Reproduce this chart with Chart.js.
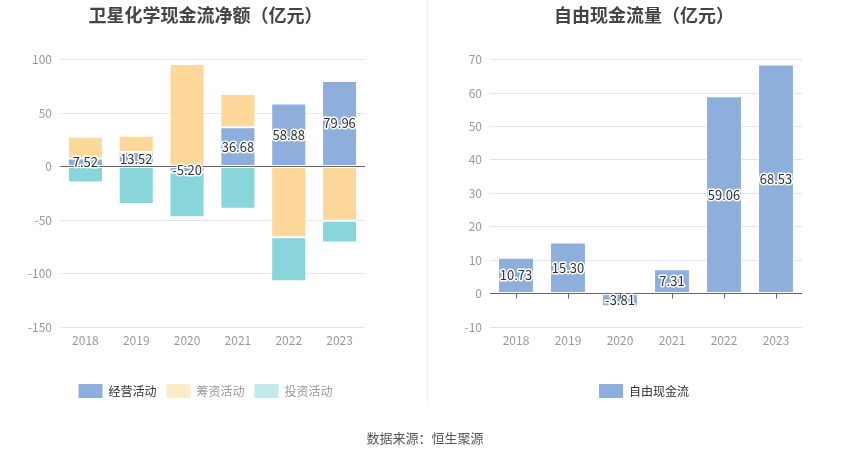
<!DOCTYPE html>
<html>
<head>
<meta charset="utf-8">
<script src="https://cdn.jsdelivr.net/npm/chart.js@4.4.1/dist/chart.umd.min.js"></script>
<style>
  body{margin:0;background:#fff;font-family:"Noto Sans CJK SC",sans-serif;}
  #wrap{position:relative;width:850px;height:459px;}
  #left{position:absolute;left:0;top:0;}
  #right{position:absolute;left:425px;top:0;}
  #divider{position:absolute;left:427px;top:0;width:1px;height:405px;background:#eeeeee;}
  #source{position:absolute;left:0;width:850px;top:428px;text-align:center;font-size:13px;color:#555;}
</style>
</head>
<body>
<div id="wrap">
  <canvas id="left" width="425" height="459"></canvas>
  <div id="divider"></div>
  <canvas id="right" width="425" height="459"></canvas>
  <div id="source">数据来源：恒生聚源</div>
</div>
<script>
const years = ["2018", "2019", "2020", "2021", "2022", "2023"];
const operating = [7.52, 13.52, -5.20, 36.68, 58.88, 79.96];
const financing = [20.4, 15.3, 96.0, 31.2, -66.0, -50.7];
const investing = [-14.8, -35.1, -42.1, -39.5, -41.2, -20.3];
const freeCash = [10.73, 15.30, -3.81, 7.31, 59.06, 68.53];
const leftTicks = [100, 50, 0, -50, -100, -150];
const rightTicks = [70, 60, 50, 40, 30, 20, 10, 0, -10];

const FONT = '"Noto Sans CJK SC", sans-serif';
const BLUE = "#8eaedb";
const PEACH = "#fed89a";
const TEAL = "#88d6da";

// value labels centred in the bars, white halo
const barLabels = {
  id: "barLabels",
  afterDatasetsDraw(chart, args, opts){
    const ctx = chart.ctx;
    const meta = chart.getDatasetMeta(0);
    const data = chart.data.datasets[0].data;
    ctx.save();
    ctx.font = "13px " + FONT;
    ctx.textAlign = "center";
    ctx.textBaseline = "middle";
    ctx.lineJoin = "round";
    meta.data.forEach((bar, i) => {
      const p = bar.getProps(["x", "y", "base"], true);
      const y = (p.y + p.base) / 2;
      const t = data[i].toFixed(2);
      ctx.strokeStyle = "#fff";
      ctx.lineWidth = 3;
      ctx.strokeText(t, p.x, y);
      ctx.fillStyle = "#333";
      ctx.fillText(t, p.x, y);
    });
    if(opts.zeroTicks){
      const x = chart.scales.x, y0 = chart.scales.y.getPixelForValue(0);
      ctx.strokeStyle = "#666";
      ctx.lineWidth = 1;
      years.forEach((_, i) => {
        const px = Math.round(x.getPixelForValue(i)) + 0.5;
        ctx.beginPath();
        ctx.moveTo(px, y0);
        ctx.lineTo(px, y0 + 5);
        ctx.stroke();
      });
    }
    ctx.restore();
  }
};

// nudge title and legend sideways so they centre like the original
const shiftBoxes = {
  id: "shiftBoxes",
  afterLayout(chart, args, opts){
    [chart.titleBlock, chart.legend].forEach(b => {
      if(!b) return;
      b.left += opts.dx;
      b.right += opts.dx;
      if(b.legendHitBoxes) b.legendHitBoxes.forEach(h => { h.left += opts.dx; });
    });
  }
};

function legendOpts(swatches, textColors){
  return {
    position: "bottom",
    labels: {
      boxWidth: 24,
      boxHeight: 14,
      useBorderRadius: true,
      borderRadius: 3,
      padding: 10,
      font: { size: 12, family: FONT },
      generateLabels(chart){
        return chart.data.datasets.map((ds, i) => ({
          text: ds.label,
          fillStyle: swatches[i],
          strokeStyle: swatches[i],
          lineWidth: 0,
          fontColor: textColors[i],
          datasetIndex: i,
          hidden: false
        }));
      }
    }
  };
}

function scalesOpts(min, max, tickList){
  return {
    x: {
      stacked: true,
      grid: { display: false, drawTicks: false },
      border: { display: false },
      ticks: { color: "#999", font: { size: 12, family: FONT }, padding: 6 },
      afterFit(s){ s.height = 47; }
    },
    y: {
      stacked: true,
      min, max,
      afterBuildTicks(s){ s.ticks = tickList.map(v => ({ value: v })); },
      grid: {
        drawTicks: false,
        color: (c) => c.tick && c.tick.value === 0 ? "#666" : "#e0e6f1"
      },
      border: { display: false },
      ticks: { color: "#999", font: { size: 12, family: FONT }, padding: 8 },
      afterFit(s){ s.width = 40; }
    }
  };
}

new Chart(document.getElementById("left"), {
  type: "bar",
  data: {
    labels: years,
    datasets: [
      { label: "经营活动", data: operating, backgroundColor: BLUE },
      { label: "筹资活动", data: financing, backgroundColor: PEACH },
      { label: "投资活动", data: investing, backgroundColor: TEAL }
    ]
  },
  options: {
    responsive: false,
    animation: false,
    datasets: { bar: { barPercentage: 0.69, categoryPercentage: 1, borderColor: "#fff", borderWidth: 1, borderSkipped: false } },
    layout: { padding: { left: 20, right: 60, top: 0, bottom: 51 } },
    plugins: {
      title: {
        display: true,
        text: "卫星化学现金流净额（亿元）",
        color: "#444",
        font: { size: 18, weight: "bold", family: FONT },
        padding: { top: 4, bottom: 34 }
      },
      legend: legendOpts([BLUE, "#fdebca", "#c2eaec"], ["#333", "#999", "#999"]),
      tooltip: { enabled: false },
      barLabels: { zeroTicks: false },
      shiftBoxes: { dx: 13 }
    },
    scales: scalesOpts(-150, 100, leftTicks)
  },
  plugins: [barLabels, shiftBoxes]
});

new Chart(document.getElementById("right"), {
  type: "bar",
  data: {
    labels: years,
    datasets: [
      { label: "自由现金流", data: freeCash, backgroundColor: BLUE }
    ]
  },
  options: {
    responsive: false,
    animation: false,
    datasets: { bar: { barPercentage: 0.69, categoryPercentage: 1, borderColor: "#fff", borderWidth: 1, borderSkipped: false } },
    layout: { padding: { left: 25, right: 48, top: 0, bottom: 51 } },
    plugins: {
      title: {
        display: true,
        text: "自由现金流量（亿元）",
        color: "#444",
        font: { size: 18, weight: "bold", family: FONT },
        padding: { top: 4, bottom: 34 }
      },
      legend: legendOpts([BLUE], ["#333"]),
      tooltip: { enabled: false },
      barLabels: { zeroTicks: true },
      shiftBoxes: { dx: 18 }
    },
    scales: scalesOpts(-10, 70, rightTicks)
  },
  plugins: [barLabels, shiftBoxes]
});
</script>
</body>
</html>
